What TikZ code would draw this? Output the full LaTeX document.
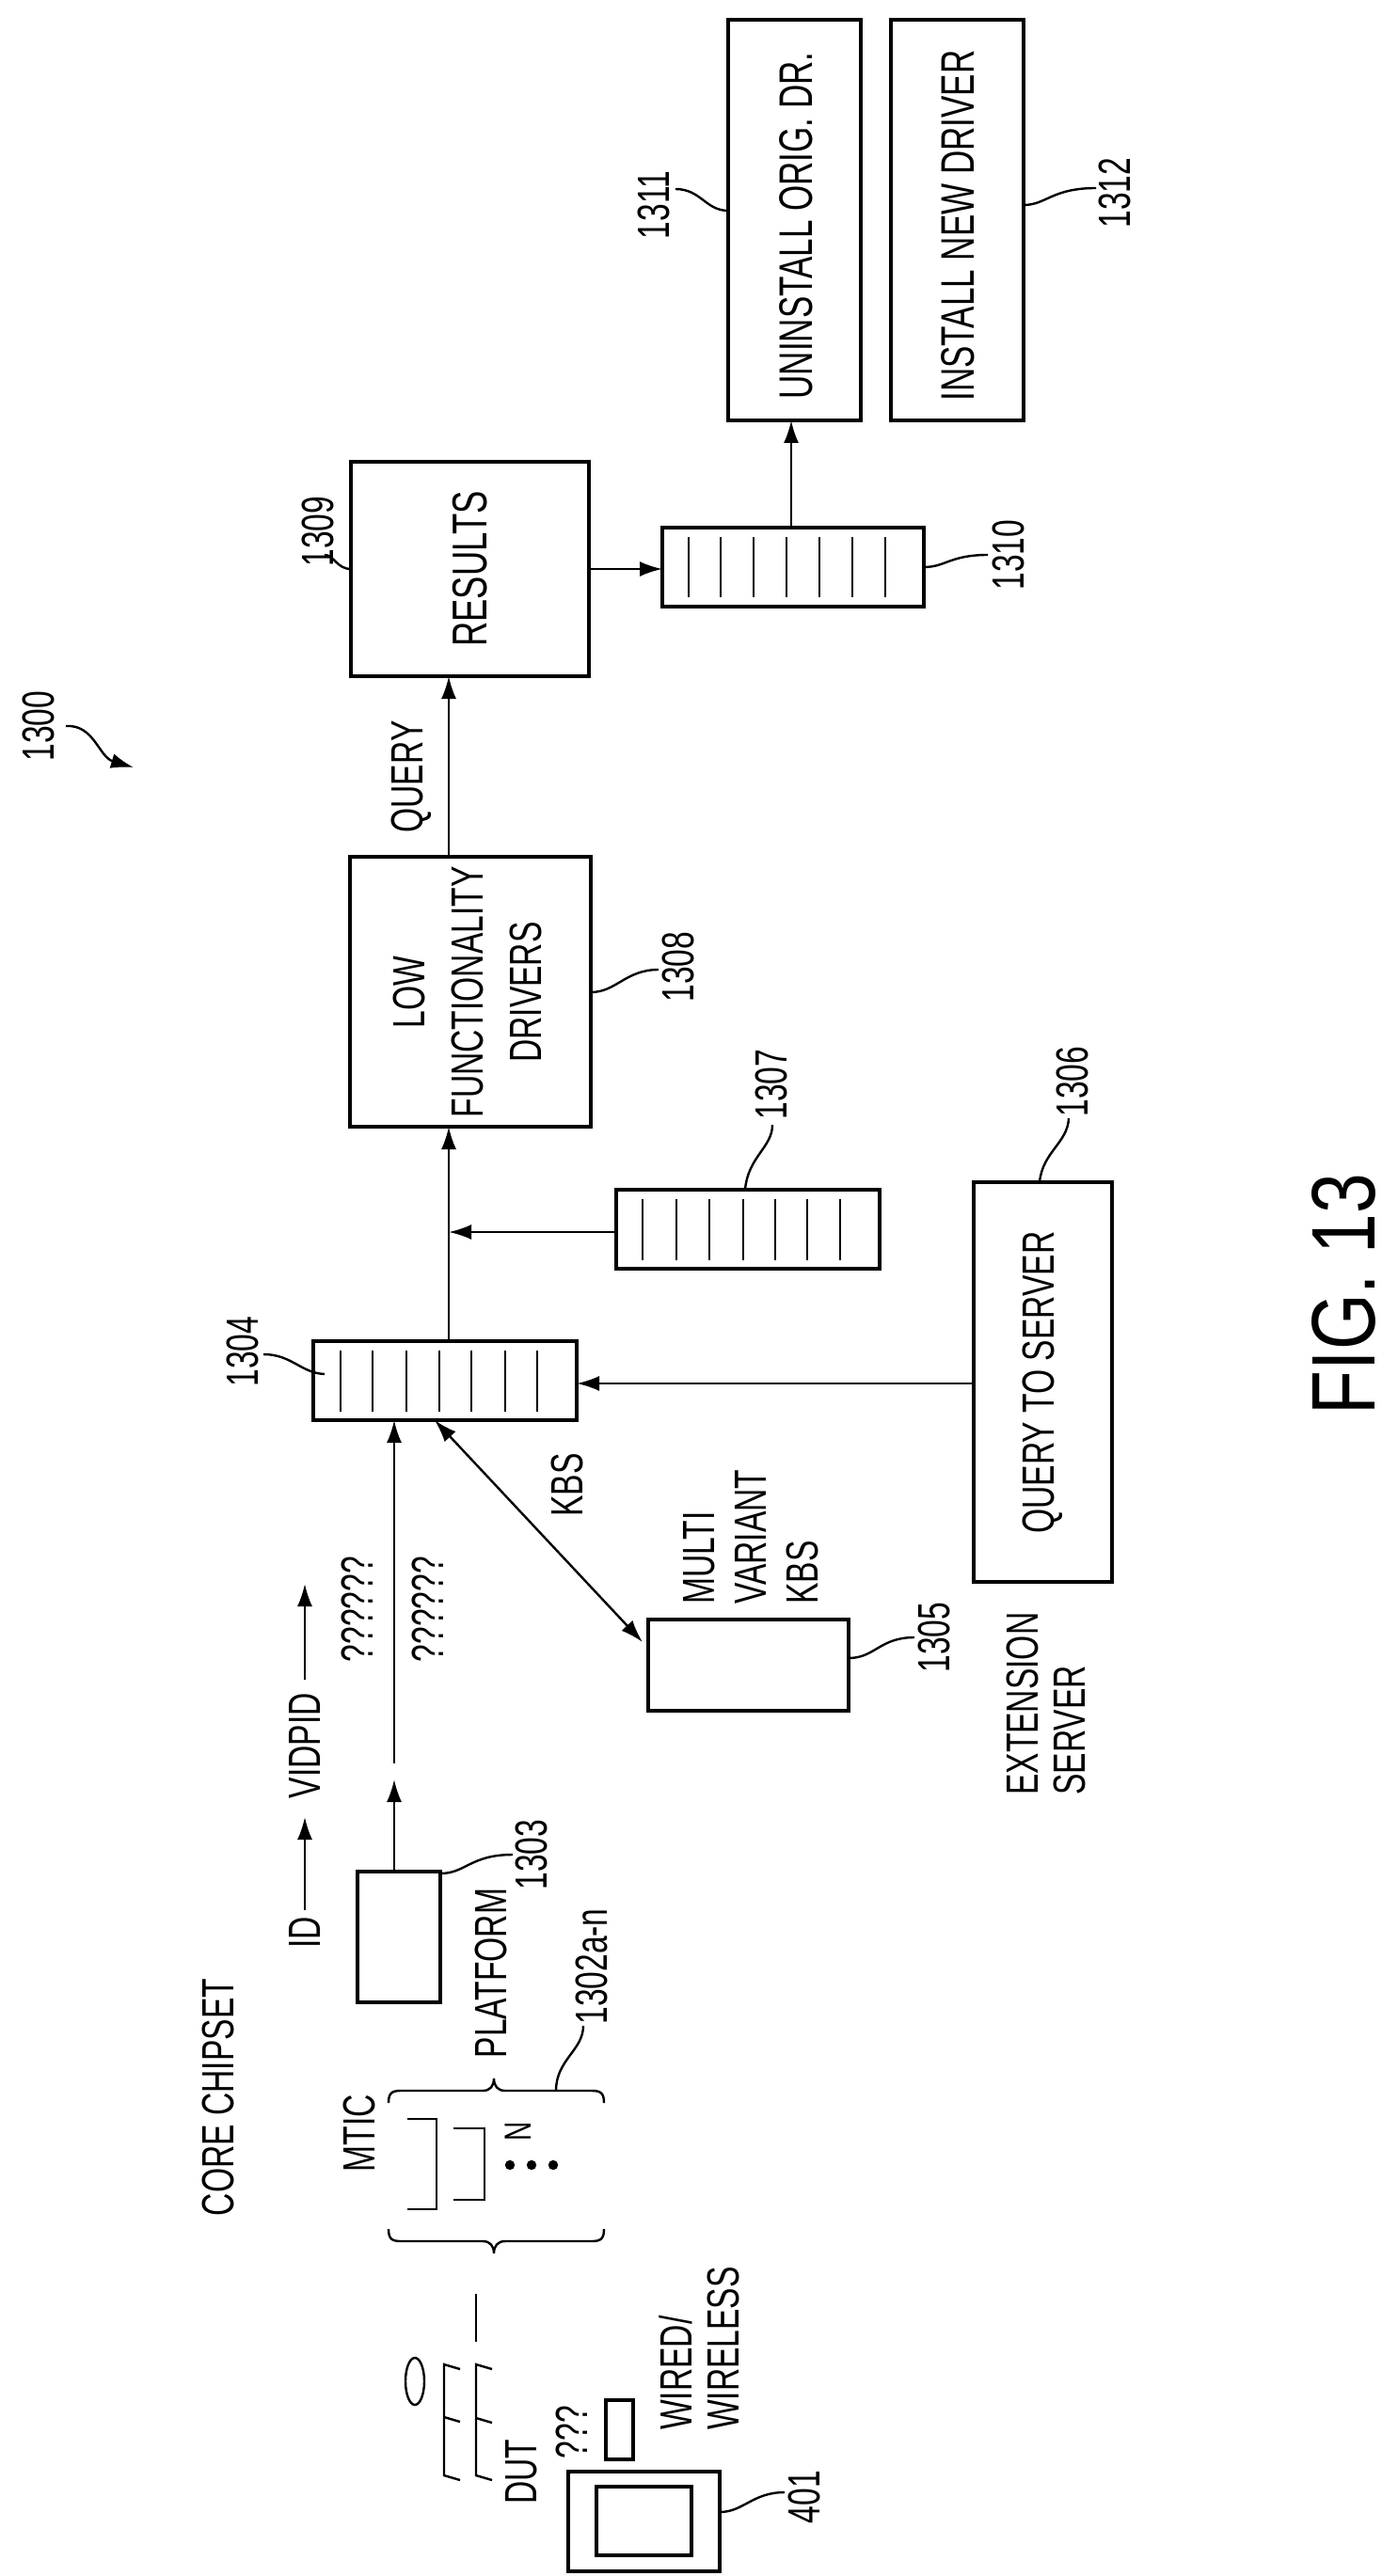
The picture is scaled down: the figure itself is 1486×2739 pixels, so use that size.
\documentclass[tikz,border=0pt]{standalone}
\usepackage{fontspec}
\setmainfont[FakeStretch=0.7]{Liberation Sans}
\newfontfamily\figfont[FakeStretch=0.8]{Liberation Sans}
\usetikzlibrary{arrows.meta}
\begin{document}
\begin{tikzpicture}[x=0.25pt,y=-0.25pt,line width=0.6pt,
  box/.style={draw,line width=0.8pt,inner sep=0pt},
  txt/.style={rotate=90,font=\fontsize{12}{13}\selectfont,inner sep=0pt,align=center},
  ltxt/.style={rotate=90,font=\fontsize{12}{14}\selectfont,inner sep=0pt,align=left},
  arr/.style={-{Latex[length=6pt,width=4pt]}},
  lead/.style={line width=0.6pt}]
\useasboundingbox (0,0) rectangle (1486,2739);
% ---- boxes
\draw[box] (774,21) rectangle (915,447);
\node[txt,font=\fontsize{12.5}{13}\selectfont] (t1311) at (846,240) {UNINSTALL ORIG. DR.};
\draw[box] (947,21) rectangle (1088,447);
\node[txt,font=\fontsize{12.5}{13}\selectfont] (t1312) at (1018,240) {INSTALL NEW DRIVER};
\draw[box] (373,491) rectangle (626,719);
\node[txt,font=\fontsize{13}{14}\selectfont] (tres) at (500,605) {RESULTS};
% queue 1310
\draw[box] (704,561) rectangle (982,645);
\foreach \x in {732,766,801,836,871,906,941} \draw (\x,571) -- (\x,635);
% 1308
\draw[box] (372,911) rectangle (628,1198);
\node[txt,font=\fontsize{12}{15.5}\selectfont] (tlow) at (497,1055) {LOW\\FUNCTIONALITY\\DRIVERS};
% queue 1304
\draw[box] (333,1426) rectangle (613,1510);
\foreach \x in {362,396,432,467,501,537,571} \draw (\x,1436) -- (\x,1501);
% queue 1307
\draw[box] (655,1265) rectangle (935,1349);
\foreach \x in {683,719,754,790,824,858,893} \draw (\x,1275) -- (\x,1340);
% query to server
\draw[box] (1035,1257) rectangle (1182,1682);
\node[txt] (tqs) at (1108,1470) {QUERY TO SERVER};
% multi variant box
\draw[box] (689,1722) rectangle (902,1819);
\node[ltxt,anchor=west] at (743,1707) {MULTI};
\node[ltxt,anchor=west] at (798,1707) {VARIANT};
\node[ltxt,anchor=west] at (853,1707) {KBS};
\node[ltxt,anchor=west] at (1087,1910) {EXTENSION};
\node[ltxt,anchor=west] at (1137,1910) {SERVER};
% platform
\draw[box] (380,1990) rectangle (468,2129);
% ---- arrows
\draw[arr] (626,605) -- (704,605);
\draw[arr] (841,561) -- (841,447);
\draw[arr] (477,911) -- (477,719);
\node[txt] at (437,826) {QUERY};
\draw[arr] (477,1426) -- (477,1198);
\draw[arr] (655,1310) -- (477,1310);
\draw[arr] (1035,1471) -- (613,1471);
\draw[{Latex[length=6pt,width=4pt]}-{Latex[length=6pt,width=4pt]}] (462,1510) -- (683,1746);
\node[txt] at (603,1579) {KBS};
\draw[arr] (419,1990) -- (419,1892);
\draw[arr] (419,1875) -- (419,1510);
\node[txt] at (380,1711) {??????};
\node[txt] at (455,1711) {??????};
\node[txt] (tid) at (324,2055) {ID};
\draw[arr] (324,2031) -- (324,1932);
\node[txt] at (324,1856) {VIDPID};
\draw[arr] (324,1786) -- (324,1684);
\node[txt] at (232,2230) {CORE CHIPSET};
\node[txt] at (522,2098) {PLATFORM};
\node[txt] at (382,2268) {MTIC};
% brackets
\draw (433,2253) -- (464,2253) -- (464,2349) -- (433,2349);
\draw (482,2263) -- (515,2263) -- (515,2339) -- (482,2339);
\node[txt,font=\fontsize{10}{11}\selectfont] at (551,2266) {N};
\foreach \x in {542,565,588} \fill (\x,2302) circle (1.3pt);
% braces
\draw (413,2236) .. controls (413,2226) and (416,2223) .. (426,2223) -- (513,2223) .. controls (521,2223) and (525,2218) .. (525,2210) .. controls (525,2218) and (529,2223) .. (537,2223) -- (629,2223) .. controls (639,2223) and (642,2226) .. (642,2236);
\draw (413,2370) .. controls (413,2380) and (416,2383) .. (426,2383) -- (513,2383) .. controls (521,2383) and (525,2388) .. (525,2396) .. controls (525,2388) and (529,2383) .. (537,2383) -- (629,2383) .. controls (639,2383) and (642,2380) .. (642,2370);
% DUT area
\draw (506,2439) -- (506,2490);
\draw (441,2532) ellipse (10 and 25);
\draw (489,2519) -- (472,2514) -- (472,2632) -- (489,2637);
\draw (472,2570) -- (489,2575);
\draw (523,2519) -- (506,2514) -- (506,2632) -- (523,2637);
\draw (506,2571) -- (523,2576);
\node[txt] at (554,2628) {DUT};
\node[txt] at (608,2586) {???};
\draw[box] (644,2552) rectangle (673,2615);
\node[ltxt,anchor=west] at (718,2585) {WIRED/};
\node[ltxt,anchor=west] at (769,2585) {WIRELESS};
\draw[box] (604,2628) rectangle (765,2734);
\draw[box] (634,2644) rectangle (735,2717);
% ---- reference numerals
\node[txt] (r1300) at (41,772) {1300};
\draw[arr] (70,772) .. controls (100,770) and (105,805) .. (142,816);
\node[txt] at (695,218) {1311};
\draw[lead] (774,224) .. controls (750,224) and (745,201) .. (718,201);
\node[txt] at (1185,205) {1312};
\draw[lead] (1088,218) .. controls (1112,218) and (1118,200) .. (1165,200);
\node[txt] at (338,565) {1309};
\draw[lead] (373,605) .. controls (358,605) and (355,590) .. (345,590);
\node[txt] at (1072,590) {1310};
\draw[lead] (982,603) .. controls (1005,603) and (1010,590) .. (1050,590);
\node[txt] at (721,1028) {1308};
\draw[lead] (628,1055) .. controls (655,1055) and (665,1031) .. (700,1031);
\node[txt] at (820,1153) {1307};
\draw[lead] (792,1265) .. controls (795,1230) and (821,1220) .. (821,1196);
\node[txt] at (258,1437) {1304};
\draw[lead] (345,1461) .. controls (320,1460) and (310,1440) .. (280,1440);
\node[txt] at (1140,1150) {1306};
\draw[lead] (1105,1257) .. controls (1108,1225) and (1135,1215) .. (1136,1189);
\node[txt] at (993,1741) {1305};
\draw[lead] (902,1763) .. controls (930,1763) and (935,1741) .. (972,1741);
\node[txt] at (565,1972) {1303};
\draw[lead] (468,1992) .. controls (495,1992) and (500,1972) .. (545,1972);
\node[txt] at (629,2091) {1302a-n};
\draw[lead] (591,2223) .. controls (591,2190) and (620,2180) .. (620,2154);
\node[txt] at (855,2655) {401};
\draw[lead] (765,2671) .. controls (790,2671) and (800,2650) .. (834,2650);
\node[rotate=90,inner sep=0pt,font=\figfont\fontsize{24}{26}\selectfont] at (1428,1376) {FIG. 13};
\end{tikzpicture}
\end{document}
